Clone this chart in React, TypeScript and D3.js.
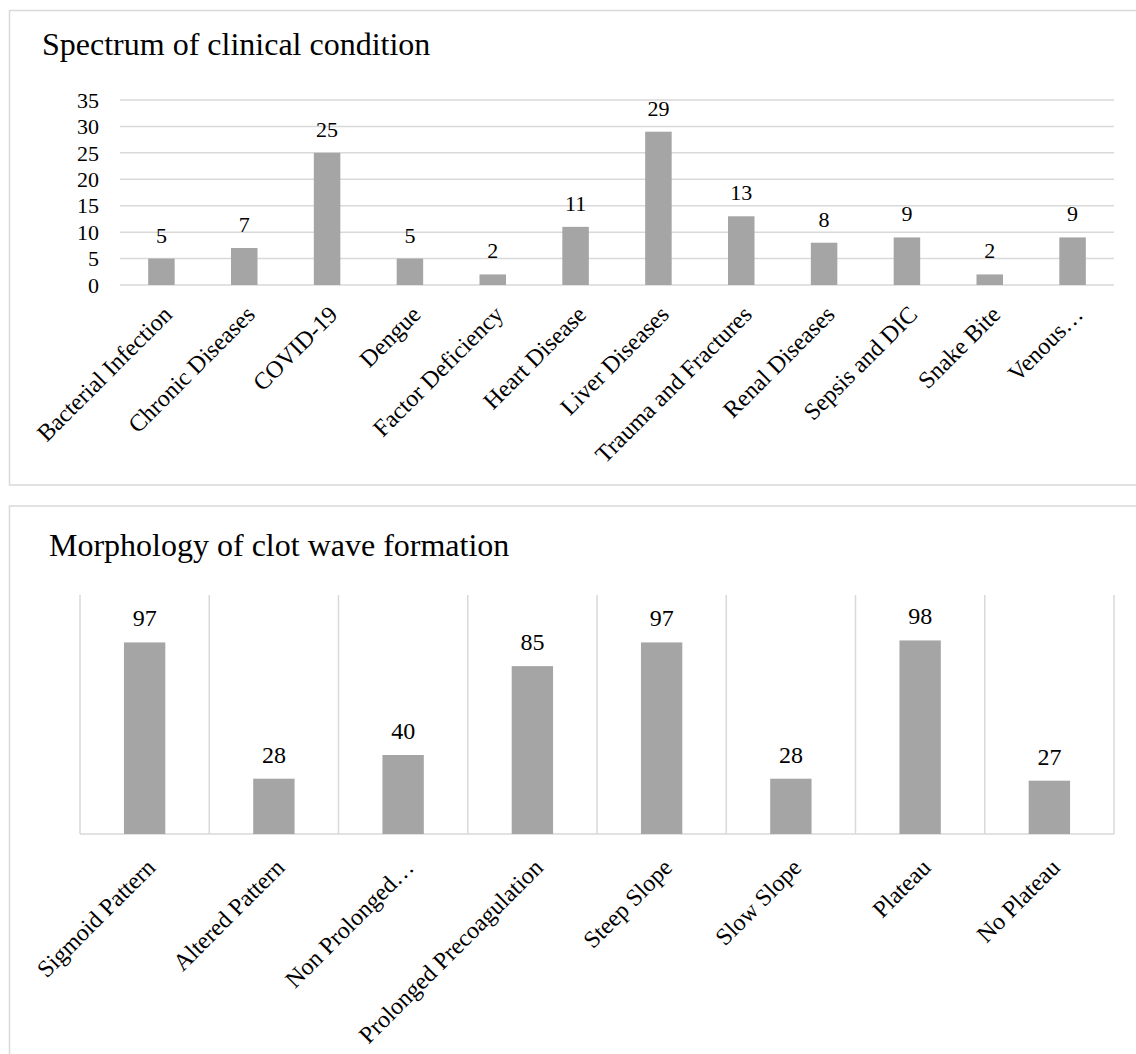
import React from 'react';
import * as d3 from 'd3';

// chart data
const conditionNames = [
  'Bacterial Infection', 'Chronic Diseases', 'COVID-19', 'Dengue', 'Factor Deficiency',
  'Heart Disease', 'Liver Diseases', 'Trauma and Fractures', 'Renal Diseases',
  'Sepsis and DIC', 'Snake Bite', 'Venous…',
];
const conditionCounts = [5, 7, 25, 5, 2, 11, 29, 13, 8, 9, 2, 9];
const conditionTicks = [0, 5, 10, 15, 20, 25, 30, 35];

const morphologyNames = [
  'Sigmoid Pattern', 'Altered Pattern', 'Non Prolonged…', 'Prolonged Precoagulation',
  'Steep Slope', 'Slow Slope', 'Plateau', 'No Plateau',
];
const morphologyCounts = [97, 28, 40, 85, 97, 28, 98, 27];

const FONT = '"Liberation Serif", "Times New Roman", serif';
const BAR = '#A5A5A5';
const GRID = '#D9D9D9';

const App: React.FC = () => {
  const W = 1136;
  const H = 1054;

  // top chart: spectrum of clinical condition
  const x1 = d3.scaleBand<string>().domain(conditionNames).range([120, 1114]).paddingInner(0.68).paddingOuter(0.34);
  const y1 = d3.scaleLinear().domain([0, 35]).range([285, 100]);

  // bottom chart: morphology of clot wave formation
  const x2 = d3.scaleBand<string>().domain(morphologyNames).range([80, 1114]).paddingInner(0.68).paddingOuter(0.34);
  const y2 = d3.scaleLinear().domain([0, 120]).range([834, 597]);
  const step2 = x2.step();
  const bounds2 = d3.range(morphologyNames.length + 1).map(i => 80 + i * step2);

  return (
    <svg width={W} height={H} style={{ position: 'absolute', left: 0, top: 0 }} fontFamily={FONT}>
      <rect x={0} y={0} width={W} height={H} fill="#fff" />

      {/* panel borders */}
      <rect x={9.5} y={10.5} width={1200} height={474.5} fill="#fff" stroke={GRID} strokeWidth={1.5} />
      <rect x={9.5} y={506} width={1200} height={600} fill="#fff" stroke={GRID} strokeWidth={1.5} />

      {/* ---- top chart ---- */}
      <text x={42} y={55} fontSize={32} fill="#000">Spectrum of clinical condition</text>
      {conditionTicks.map(t => (
        <g key={t}>
          <line x1={120} x2={1114} y1={y1(t)} y2={y1(t)} stroke={GRID} strokeWidth={1.5} />
          <text x={99} y={y1(t)} dy="0.35em" textAnchor="end" fontSize={22}>{t}</text>
        </g>
      ))}
      {conditionNames.map((c, i) => {
        const cx = (x1(c) ?? 0) + x1.bandwidth() / 2;
        return (
          <g key={c}>
            <rect x={x1(c)} y={y1(conditionCounts[i])} width={x1.bandwidth()}
              height={y1(0) - y1(conditionCounts[i])} fill={BAR} />
            <text x={cx} y={y1(conditionCounts[i]) - 16} textAnchor="middle" fontSize={22}>{conditionCounts[i]}</text>
            <text transform={`translate(${cx + 12},${y1(0) + 31}) rotate(-45)`} textAnchor="end" fontSize={24}>{c}</text>
          </g>
        );
      })}

      {/* ---- bottom chart ---- */}
      <text x={49} y={556} fontSize={32} fill="#000">Morphology of clot wave formation</text>
      {bounds2.map((bx, i) => (
        <line key={i} x1={bx} x2={bx} y1={595} y2={y2(0)} stroke={GRID} strokeWidth={1.5} />
      ))}
      <line x1={80} x2={1114} y1={y2(0)} y2={y2(0)} stroke={GRID} strokeWidth={1.5} />
      {morphologyNames.map((c, i) => {
        const cx = (x2(c) ?? 0) + x2.bandwidth() / 2;
        return (
          <g key={c}>
            <rect x={x2(c)} y={y2(morphologyCounts[i])} width={x2.bandwidth()}
              height={y2(0) - y2(morphologyCounts[i])} fill={BAR} />
            <text x={cx} y={y2(morphologyCounts[i]) - 16} textAnchor="middle" fontSize={24}>{morphologyCounts[i]}</text>
            <text transform={`translate(${cx + 12},${y2(0) + 35}) rotate(-45)`} textAnchor="end" fontSize={24}>{c}</text>
          </g>
        );
      })}
    </svg>
  );
};

export default App;
